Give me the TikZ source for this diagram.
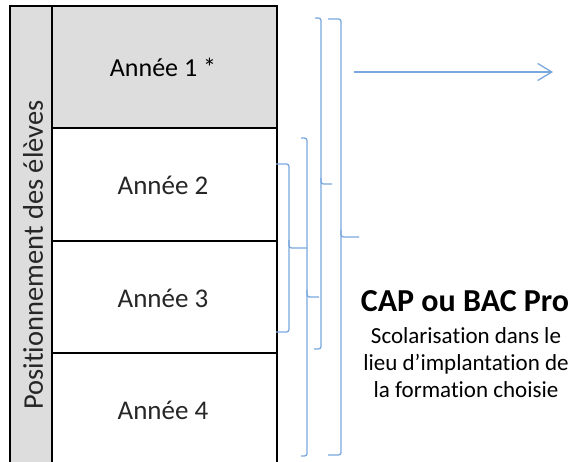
\documentclass[tikz,border=0pt]{standalone}
\usepackage{fontspec}
\setmainfont{Carlito}[Ligatures=NoCommon]
\usetikzlibrary{arrows.meta}
\definecolor{brk}{RGB}{122,168,222}
\definecolor{cellgray}{RGB}{221,221,221}
\tikzset{
  cell/.style={draw=black, line width=1.8pt, inner sep=0pt, minimum width=225pt},
  rowtext/.style={font=\fontsize{27}{30}\selectfont, text=black!85},
  bracketline/.style={draw=brk, line width=1.3pt, rounded corners=2.5pt},
}
\begin{document}
\begin{tikzpicture}[x=1pt,y=-1pt]
\useasboundingbox (0,0) rectangle (573,462);
% left column
\node[draw=black, line width=1.8pt, fill=cellgray, inner sep=0pt, minimum width=42pt, minimum height=461pt, anchor=north west] (side) at (9,5) {};
\node[rotate=90, font=\fontsize{28.5}{32}\selectfont, text=black!85] (sidetext) at (33,255) {Positionnement des élèves};
% rows
\node[cell, fill=cellgray, minimum height=122pt, anchor=north west] (r1) at (51,5) {};
\node[cell, fill=white, minimum height=113pt, anchor=north west] (r2) at (51,127) {};
\node[cell, fill=white, minimum height=112pt, anchor=north west] (r3) at (51,240) {};
\node[cell, fill=white, minimum height=114pt, anchor=north west] (r4) at (51,352) {};
\node[font=\fontsize{26}{30}\selectfont] (t1) at (163,67) {Année 1 *};
\node[rowtext] (t2) at (163,185) {Année 2};
\node[rowtext] (t3) at (163,298) {Année 3};
\node[rowtext] (t4) at (163,410) {Année 4};
% brackets
\draw[bracketline] (276,164) -- (289,164) -- (289,248) -- (307,248);
\draw[bracketline] (289,240) -- (289,332) -- (276,332);
\draw[bracketline] (301,138) -- (307,138) -- (307,297) -- (319,297);
\draw[bracketline] (307,290) -- (307,456) -- (301,456);
\draw[bracketline] (315,18) -- (321,18) -- (321,184) -- (332,184);
\draw[bracketline] (321,178) -- (321,349) -- (314,349);
\draw[bracketline] (328,19) -- (341,19) -- (341,237) -- (359,237);
\draw[bracketline] (341,230) -- (341,455) -- (328,455);
% arrow
\coordinate (as) at (354,72);
\coordinate (ae) at (553,72);
\draw[draw=brk, line width=1.3pt, -{Straight Barb[length=14pt,width=17pt,line width=1.3pt]}] (as) -- (ae);
% text
\node[font=\bfseries\fontsize{32}{36}\selectfont, anchor=base] (cap) at (465,312) {CAP ou BAC Pro};
\node[font=\fontsize{23}{27}\selectfont, align=center, anchor=base] (desc) at (466,397) {Scolarisation dans le\\lieu d’implantation de\\la formation choisie};
\end{tikzpicture}
\end{document}
